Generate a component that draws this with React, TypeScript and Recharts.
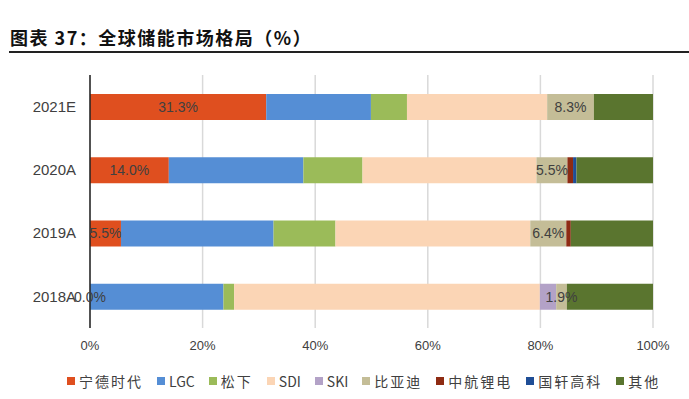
import React from 'react';
import { BarChart, Bar, XAxis, YAxis, CartesianGrid, LabelList } from 'recharts';

const categories = ['2021E', '2020A', '2019A', '2018A'];
const catl = [31.3, 14.0, 5.5, 0.0];
const lgc = [18.6, 23.9, 27.1, 23.7];
const panasonic = [6.4, 10.5, 11.0, 1.9];
const sdi = [24.9, 30.9, 34.6, 54.3];
const ski = [0, 0, 0, 2.9];
const byd = [8.3, 5.5, 6.4, 1.9];
const avic = [0, 1.0, 0.8, 0];
const gotion = [0, 0.6, 0, 0];
const others = [10.5, 13.6, 14.6, 15.3];
const xTicks = [0, 20, 40, 60, 80, 100];

const series = [
  { key: 'catl', name: '宁德时代', values: catl, color: '#DF4F1F', label: true },
  { key: 'lgc', name: 'LGC', values: lgc, color: '#558ED5', label: false },
  { key: 'pana', name: '松下', values: panasonic, color: '#9BBB59', label: false },
  { key: 'sdi', name: 'SDI', values: sdi, color: '#FBD5B5', label: false },
  { key: 'ski', name: 'SKI', values: ski, color: '#B3A2C7', label: false },
  { key: 'byd', name: '比亚迪', values: byd, color: '#C4BD97', label: true },
  { key: 'avic', name: '中航锂电', values: avic, color: '#8E2B13', label: false },
  { key: 'gotion', name: '国轩高科', values: gotion, color: '#1F4E96', label: false },
  { key: 'other', name: '其他', values: others, color: '#5A752F', label: false },
];

const data = categories.map((c, i) => {
  const row: Record<string, string | number> = { name: c };
  series.forEach((s) => (row[s.key] = s.values[i]));
  return row;
});

const font = '"Liberation Sans", "Noto Sans CJK SC", sans-serif';
const isLatin = (t: string) => /^[A-Za-z]+$/.test(t);

export default function App() {
  return (
    <div style={{ position: 'absolute', left: 0, top: 0, width: 689, height: 399, background: '#fff', fontFamily: font }}>
      <div
        style={{
          position: 'absolute',
          left: 10,
          top: 26,
          fontSize: 18,
          fontWeight: 'bold',
          fontFamily: '"Noto Sans CJK SC", sans-serif',
          color: '#111',
          lineHeight: '22px',
          letterSpacing: 1.5,
          whiteSpace: 'nowrap',
        }}
      >
        图表 37：全球储能市场格局（%）
      </div>
      <div style={{ position: 'absolute', left: 9, top: 51, width: 680, height: 2, background: '#222' }} />
      <div style={{ position: 'absolute', left: 0, top: 0 }}>
        <BarChart
          width={689}
          height={370}
          data={data}
          layout="vertical"
          margin={{ top: 75, right: 36, bottom: 0, left: 0 }}
          barCategoryGap={0}
        >
          <CartesianGrid horizontal={false} stroke="#d9d9d9" strokeWidth={1.5} />
          <XAxis
            type="number"
            domain={[0, 100]}
            ticks={xTicks}
            tickFormatter={(v) => `${v}%`}
            axisLine={false}
            tickLine={false}
            tickSize={0}
            tickMargin={13}
            height={42}
            tick={{ fontSize: 13, fill: '#404040', fontFamily: font }}
          />
          <YAxis
            type="category"
            dataKey="name"
            width={90}
            axisLine={{ stroke: '#222', strokeWidth: 1.5 }}
            tickLine={false}
            tickSize={0}
            tickMargin={14}
            tick={{ fontSize: 15, fill: '#404040', fontFamily: font }}
          />
          {series.map((s) => (
            <Bar
              key={s.key}
              dataKey={s.key}
              name={s.name}
              stackId="a"
              fill={s.color}
              barSize={26}
              minPointSize={s.label ? 0.01 : 0}
              isAnimationActive={false}
            >
              {s.label && (
                <LabelList
                  dataKey={s.key}
                  position="center"
                  formatter={(v: number) => `${Number(v).toFixed(1)}%`}
                  style={{ fontSize: 14, fill: '#404040', fontFamily: font }}
                />
              )}
            </Bar>
          ))}
        </BarChart>
      </div>
      <div
        style={{
          position: 'absolute',
          left: 67,
          top: 371,
          display: 'flex',
          gap: 14,
          alignItems: 'center',
          color: '#404040',
          fontFamily: '"Noto Sans CJK SC", sans-serif',
          whiteSpace: 'nowrap',
        }}
      >
        {series.map((s) => (
          <div key={s.key} style={{ display: 'flex', alignItems: 'center' }}>
            <span style={{ width: 8, height: 8, background: s.color, marginRight: 4, display: 'inline-block' }} />
            <span
              style={{
                fontSize: isLatin(s.name) ? 14 : 14,
                letterSpacing: isLatin(s.name) ? 0 : 2,
              }}
            >
              {s.name}
            </span>
          </div>
        ))}
      </div>
    </div>
  );
}
